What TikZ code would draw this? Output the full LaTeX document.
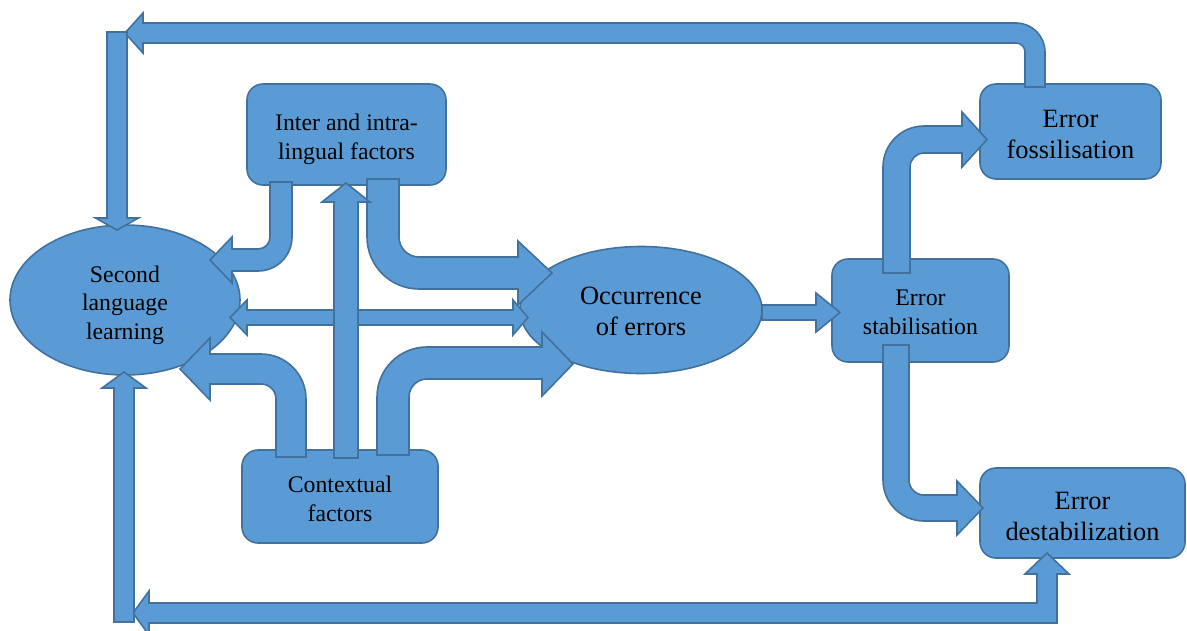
\documentclass[tikz,border=0pt]{standalone}
\usepackage{fontspec}
\setmainfont{Liberation Serif}
\usetikzlibrary{shapes.geometric}
\definecolor{boxfill}{HTML}{5B9BD5}
\definecolor{boxline}{HTML}{41719C}
\newcommand\lowtxt[2]{\raisebox{-#1}[\height][\depth]{\begin{tabular}{@{}c@{}}#2\end{tabular}}}
\begin{document}
\begin{tikzpicture}[x=1pt,y=-1pt,
  shapebase/.style={fill=boxfill,draw=boxline,line width=1.6pt,align=center,inner sep=0pt,text=black},
  box/.style={shapebase,rectangle,rounded corners=16pt},
  oval/.style={shapebase,ellipse},
  txtA/.style={font=\fontsize{23.8}{28.4}\selectfont},
  txtB/.style={font=\fontsize{26.4}{30.5}\selectfont},
  blk/.style={fill=boxfill,draw=boxline,line width=1.6pt,line join=miter}]
\useasboundingbox (0,0) rectangle (1187,630);

% nodes
\node[oval,txtA,minimum width=230pt,minimum height=150pt] (sll) at (125,300) {\lowtxt{5pt}{Second\\language\\learning}};
\node[oval,txtB,minimum width=242pt,minimum height=127pt] (occ) at (641,310) {\lowtxt{4pt}{Occurrence\\of errors}};
\node[box,txtA,minimum width=199pt,minimum height=101pt] (inter) at (346.5,134.5) {\lowtxt{5pt}{Inter and intra-\\lingual factors}};
\node[box,txtA,minimum width=196pt,minimum height=93pt] (ctx) at (340,496.5) {\lowtxt{5pt}{Contextual\\factors}};
\node[box,txtA,minimum width=177pt,minimum height=103pt] (stab) at (920.5,310.5) {\lowtxt{4pt}{Error\\stabilisation}};
\node[box,txtB,minimum width=181pt,minimum height=95pt] (foss) at (1070.5,131.5) {\lowtxt{5.5pt}{Error\\fossilisation}};
\node[box,txtB,minimum width=205pt,minimum height=90pt] (dest) at (1082.5,513) {\lowtxt{6pt}{Error\\destabilization}};

% top feedback: fossilisation -> left
\draw[blk] (1025,87) -- (1025,52) arc[start angle=0,end angle=-90,radius=9]
  -- (143,43) -- (143,53) -- (125,33) -- (143,13) -- (143,23)
  -- (1016,23) arc[start angle=-90,end angle=0,radius=29] -- (1045,87) -- cycle;
% down into second language learning
\draw[blk] (107,32) -- (127,32) -- (127,218) -- (138.5,218) -- (117,230)
  -- (95.5,218) -- (107,218) -- cycle;

% bottom feedback: left-up double arrow
\draw[blk] (149,603) -- (1037,603) -- (1037,574) -- (1025,574) -- (1047,553)
  -- (1069,574) -- (1057,574) -- (1057,623) -- (149,623) -- (149,635)
  -- (133,613) -- (149,591) -- cycle;
% up into second language learning
\draw[blk] (114,622) -- (114,388) -- (102,388) -- (124,372) -- (146,388)
  -- (134,388) -- (134,622) -- cycle;

% inter -> second language learning
\draw[blk] (270,182) -- (270,237) arc[start angle=0,end angle=90,radius=12]
  -- (232,249) -- (232,237) -- (210,260) -- (232,283) -- (232,271)
  -- (258,271) arc[start angle=90,end angle=0,radius=34] -- (292,182) -- cycle;

% inter -> occurrence
\draw[blk] (367,179) -- (367,237) arc[start angle=180,end angle=90,radius=52]
  -- (518,289) -- (518,305) -- (552,273) -- (518,241) -- (518,257)
  -- (419,257) arc[start angle=90,end angle=180,radius=20] -- (399,179) -- cycle;

% contextual -> second language learning
\draw[blk] (276,457) -- (276,399) arc[start angle=0,end angle=-90,radius=15]
  -- (210,384) -- (210,400) -- (180,369) -- (210,338) -- (210,354)
  -- (261,354) arc[start angle=-90,end angle=0,radius=45] -- (306,457) -- cycle;

% contextual -> occurrence
\draw[blk] (377,455) -- (377,397) arc[start angle=180,end angle=270,radius=50]
  -- (542,347) -- (542,332) -- (573,364) -- (542,396) -- (542,379)
  -- (427,379) arc[start angle=270,end angle=180,radius=18] -- (409,455) -- cycle;

% double arrow second language <-> occurrence
\draw[blk] (247,310) -- (513,310) -- (513,300) -- (528,317.5) -- (513,335)
  -- (513,325) -- (247,325) -- (247,335) -- (230,317.5) -- (247,300) -- cycle;

% contextual -> inter (vertical)
\draw[blk] (334,458) -- (334,202) -- (322,202) -- (346,183) -- (370,202)
  -- (358,202) -- (358,458) -- cycle;

% occurrence -> stabilisation
\draw[blk] (762,305) -- (816,305) -- (816,293) -- (840,312.5) -- (816,332)
  -- (816,320) -- (762,320) -- cycle;

% stabilisation -> fossilisation
\draw[blk] (883,273) -- (883,167) arc[start angle=180,end angle=270,radius=41]
  -- (962,126) -- (962,112) -- (987,139.5) -- (962,167) -- (962,153)
  -- (924,153) arc[start angle=270,end angle=180,radius=14] -- (910,273) -- cycle;

% stabilisation -> destabilization
\draw[blk] (883,345) -- (883,480) arc[start angle=180,end angle=90,radius=41]
  -- (957,521) -- (957,535) -- (983,508) -- (957,481) -- (957,495)
  -- (924,495) arc[start angle=90,end angle=180,radius=15] -- (909,345) -- cycle;
\end{tikzpicture}
\end{document}
